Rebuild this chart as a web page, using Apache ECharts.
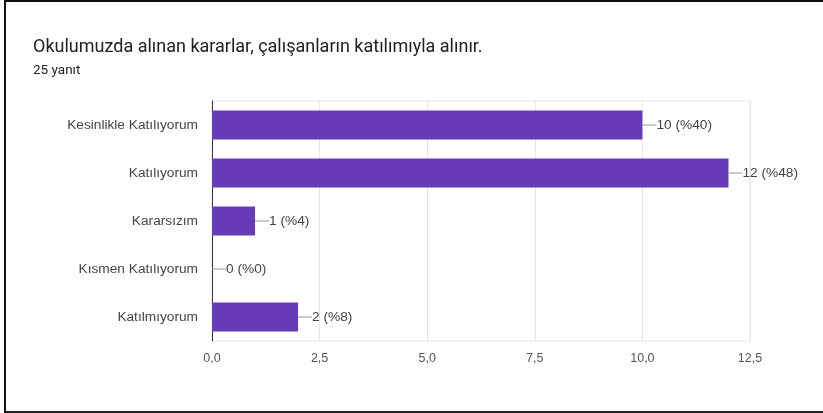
<!DOCTYPE html>
<html>
<head>
<meta charset="utf-8">
<script src="https://cdn.jsdelivr.net/npm/echarts@6/dist/echarts.min.js"></script>
<style>
  html, body { margin: 0; padding: 0; background: #fff; overflow: hidden; }
  #frame {
    position: absolute; left: 4px; top: 0; width: 817px; height: 409px;
    border-left: 2px solid #111; border-top: 2px solid #111; border-bottom: 2px solid #222;
  }
  #main { position: absolute; left: 0; top: 0; width: 823px; height: 413px; }
</style>
</head>
<body>
<div id="frame"></div>
<div id="main"></div>
<script>
// veriler
var categories = ['Kesinlikle Katılıyorum', 'Katılıyorum', 'Kararsızım', 'Kısmen Katılıyorum', 'Katılmıyorum'];
var counts = [10, 12, 1, 0, 2];
var percents = [40, 48, 4, 0, 8];
var tickLabels = ['0,0', '2,5', '5,0', '7,5', '10,0', '12,5'];

var chart = echarts.init(document.getElementById('main'), null, { renderer: 'canvas' });

var option = {
  backgroundColor: 'transparent',
  animation: false,
  title: {
    text: 'Okulumuzda alınan kararlar, çalışanların katılımıyla alınır.',
    subtext: '25 yanıt',
    left: 28,
    top: 33,
    itemGap: 8,
    textStyle: { fontFamily: 'Roboto', fontSize: 18, fontWeight: 'normal', color: '#202124' },
    subtextStyle: { fontFamily: 'Roboto', fontSize: 13.5, color: '#202124' }
  },
  grid: {
    left: 212, right: 73, top: 101, height: 240,
    show: true, borderColor: '#e6e6e6', borderWidth: 1
  },
  xAxis: {
    type: 'value',
    min: 0, max: 12.5, interval: 2.5,
    axisLine: { show: false },
    axisTick: { show: false },
    splitLine: { lineStyle: { color: '#e6e6e6' } },
    axisLabel: {
      margin: 11,
      fontFamily: 'Arial', fontSize: 12.5, color: '#555',
      formatter: function (v) { return tickLabels[Math.round(v / 2.5)]; }
    }
  },
  yAxis: {
    type: 'category',
    inverse: true,
    data: categories,
    axisLine: { show: true, lineStyle: { color: '#333', width: 1 } },
    axisTick: { show: false },
    axisLabel: { margin: 14, fontFamily: 'Arial', fontSize: 13.7, color: '#444' }
  },
  series: [{
    type: 'bar',
    data: counts,
    barWidth: 29,
    itemStyle: { color: '#673ab7' },
    label: {
      show: true,
      position: 'right',
      distance: 0,
      formatter: function (p) {
        return '{ln| }' + counts[p.dataIndex] + ' (%' + percents[p.dataIndex] + ')';
      },
      fontFamily: 'Arial', fontSize: 13.7, color: '#444',
      rich: {
        ln: { width: 14, height: 1, backgroundColor: '#999', padding: 0 }
      }
    }
  }]
};

chart.setOption(option);
</script>
</body>
</html>
